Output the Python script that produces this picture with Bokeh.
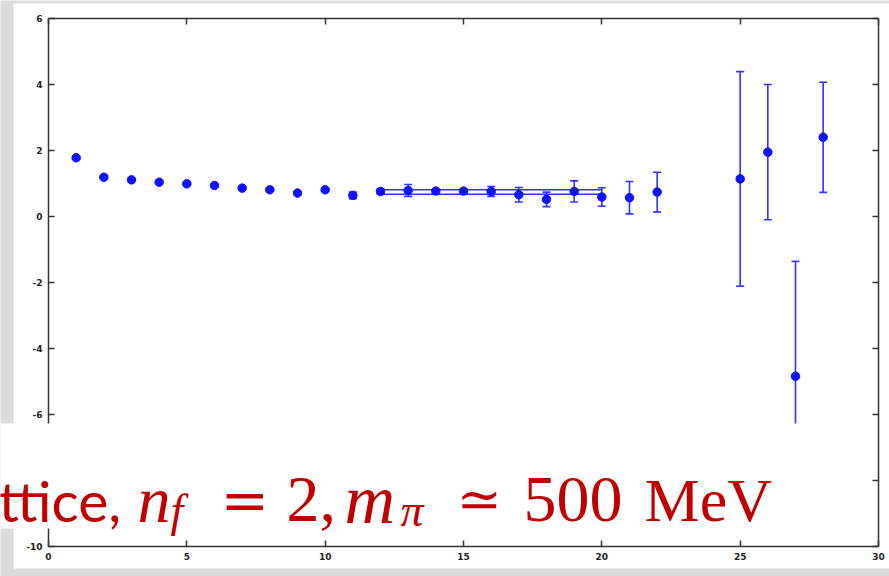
from bokeh.plotting import figure
from bokeh.models import (LinearAxis, FixedTicker, BoxAnnotation, Label, Range1d,
                          PrintfTickFormatter)
from bokeh.embed import file_html
from bokeh.resources import INLINE

# ---- data ----
t_vals = [1, 2, 3, 4, 5, 6, 7, 8, 9, 10, 11, 12, 13, 14, 15, 16, 17, 18, 19, 20, 21, 22, 25, 26, 27, 28]
y_vals = [1.78, 1.19, 1.11, 1.04, 0.99, 0.94, 0.86, 0.81, 0.71, 0.81, 0.64, 0.76, 0.79, 0.77,
          0.77, 0.76, 0.66, 0.52, 0.76, 0.59, 0.57, 0.74, 1.14, 1.95, -4.84, 2.40]
y_errs = [0.04, 0.04, 0.04, 0.04, 0.04, 0.04, 0.04, 0.04, 0.04, 0.04, 0.10, 0.08, 0.18, 0.06,
          0.06, 0.15, 0.22, 0.22, 0.32, 0.28, 0.49, 0.60, 3.25, 2.05, 3.48, 1.67]
fit_t = [12, 20]
fit_hi = [0.81, 0.81]
fit_lo = [0.675, 0.675]
x_ticks = [0, 5, 10, 15, 20, 25, 30]
y_ticks = [-10, -8, -6, -4, -2, 0, 2, 4, 6]

# ---- layout ----
W, H = 889, 576
FL, FR, FT, FB = 48, 878, 18, 546   # axes box edges in px
X0, X1, Y0, Y1 = 0, 30, -10, 6

def sx(px):
    return X0 + (px - FL) / (FR - FL) * (X1 - X0)

def sy(py):
    return Y1 - (py - FT) / (FB - FT) * (Y1 - Y0)

# frame spans the whole canvas; axes are pinned at the data box edges
p = figure(width=W, height=H, output_backend="svg", toolbar_location=None,
           x_range=Range1d(sx(0), sx(W)), y_range=Range1d(sy(H), sy(0)),
           min_border=0, x_axis_location=None, y_axis_location=None)
p.background_fill_color = "#dcdcdc"
p.border_fill_color = "#dcdcdc"
p.outline_line_color = None
p.grid.visible = False

# white page panel
p.add_layout(BoxAnnotation(left=sx(13), right=sx(W + 5), top=sy(3), bottom=sy(568),
                           fill_color="white", fill_alpha=1.0, line_color=None,
                           level="underlay"))

def mk_axis(kind, loc, fixed, show_labels):
    ax = LinearAxis(fixed_location=fixed)
    ax.ticker = FixedTicker(ticks=x_ticks if kind == "x" else y_ticks)
    ax.bounds = (X0, X1) if kind == "x" else (Y0, Y1)
    ax.formatter = PrintfTickFormatter(format="%d")
    ax.axis_line_color = "#333333"
    ax.axis_line_width = 1.5
    ax.major_tick_line_color = "#333333"
    ax.major_tick_line_width = 1.5
    ax.major_tick_in = 6
    ax.major_tick_out = 0
    ax.minor_tick_line_color = None
    ax.major_label_text_font = "DejaVu Sans"
    ax.major_label_text_font_style = "bold"
    ax.major_label_text_color = "#222222" if show_labels else None
    ax.major_label_text_font_size = "9px" if show_labels else "0px"
    ax.major_label_standoff = 6 if show_labels else 0
    p.add_layout(ax, loc)
    return ax

mk_axis("x", "below", Y0, True)
mk_axis("y", "left", X0, True)
mk_axis("x", "above", Y1, False)
mk_axis("y", "right", X1, False)

# error bars
lo = [y - e for y, e in zip(y_vals, y_errs)]
hi = [y + e for y, e in zip(y_vals, y_errs)]
EB = "#3030ff"
p.segment(x0=t_vals, y0=lo, x1=t_vals, y1=hi, line_color=EB, line_width=1.6)
p.scatter(x=t_vals, y=lo, marker="dash", size=8, line_color=EB, line_width=1.6)
p.scatter(x=t_vals, y=hi, marker="dash", size=8, line_color=EB, line_width=1.6)

# fit band
p.line(x=fit_t, y=fit_hi, line_color=EB, line_width=1.6)
p.line(x=fit_t, y=fit_lo, line_color=EB, line_width=1.6)

# markers
p.scatter(x=t_vals, y=y_vals, marker="circle", size=8.5, fill_color="#1010ff",
          line_color="#1010ff", line_width=1)

# overlaid caption box
p.add_layout(BoxAnnotation(left=sx(-5), right=sx(855), top=sy(423), bottom=sy(528),
                           fill_color="white", fill_alpha=1.0, line_color=None))

RED = "#c00000"
BASE = sy(499)
SUB = sy(510)
pieces = [
    ("ttice,", -2, BASE, "Lato", "normal", "57px"),
    ("n", 137, BASE, "Liberation Serif", "italic", "66px"),
    ("f", 170, SUB, "Liberation Serif", "italic", "46px"),
    ("=", 220, BASE, "DejaVu Serif", "normal", "58px"),
    ("2,", 286, BASE, "Liberation Serif", "normal", "66px"),
    ("m", 344, BASE, "Liberation Serif", "italic", "70px"),
    ("π", 400, SUB, "Liberation Serif", "italic", "46px"),
    ("≃", 456, BASE, "DejaVu Serif", "normal", "54px"),
    ("500", 523, BASE, "Liberation Serif", "normal", "66px"),
    ("MeV", 644, BASE, "Liberation Serif", "normal", "62px"),
]
for txt, px, yy, font, style, size in pieces:
    p.add_layout(Label(x=sx(px), y=yy, text=txt, text_color=RED, text_font=font,
                       text_font_style=style, text_font_size=size,
                       text_align="left", text_baseline="alphabetic"))

open("out.html", "w").write(file_html(p, INLINE))
